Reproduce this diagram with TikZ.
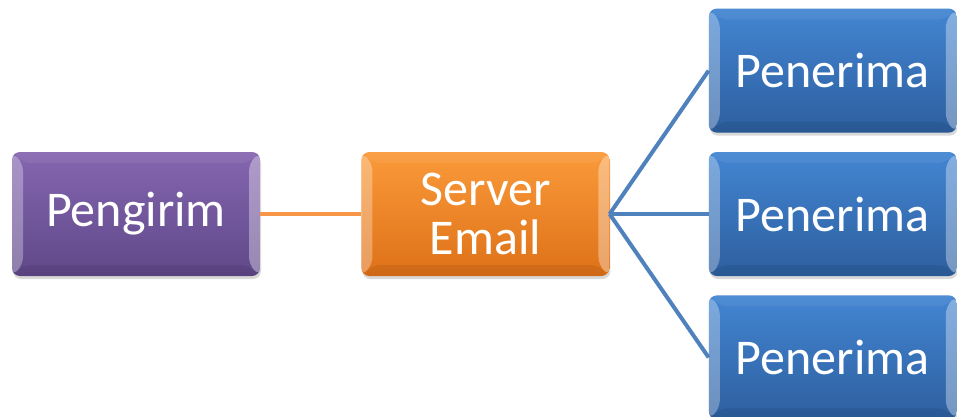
\documentclass[tikz,border=0pt]{standalone}
\usepackage{fontspec}
\setmainfont{Carlito}
\usetikzlibrary{positioning,shadows}

\definecolor{purpletop}{HTML}{8566B0}
\definecolor{purplebot}{HTML}{5F4888}
\definecolor{orangetop}{HTML}{FA9A3A}
\definecolor{orangebot}{HTML}{DE7118}
\definecolor{bluetop}{HTML}{4385D2}
\definecolor{bluebot}{HTML}{2D5F9F}
\definecolor{orangeline}{HTML}{F79646}
\definecolor{blueline}{HTML}{4F81BD}

\tikzset{
    box/.style={rounded corners=8pt, minimum width=248pt, minimum height=124pt,
        inner sep=0pt, text=white, align=center,
        font=\fontsize{50}{49}\selectfont,
        drop shadow={opacity=0.3, shadow xshift=1pt, shadow yshift=-3pt},
        path picture={
            % bevel edges
            \fill[white, opacity=0.3]
                (path picture bounding box.north west) -- ++(11pt,-11pt)
                -- ([shift={(11pt,11pt)}]path picture bounding box.south west)
                -- (path picture bounding box.south west) -- cycle;
            \fill[white, opacity=0.35]
                (path picture bounding box.north east) -- ++(-11pt,-11pt)
                -- ([shift={(-11pt,11pt)}]path picture bounding box.south east)
                -- (path picture bounding box.south east) -- cycle;
            \fill[black, opacity=0.07]
                (path picture bounding box.south west) -- ++(11pt,11pt)
                -- ([shift={(-11pt,11pt)}]path picture bounding box.south east)
                -- (path picture bounding box.south east) -- cycle;
            \fill[white, opacity=0.06]
                (path picture bounding box.north west) -- ++(11pt,-11pt)
                -- ([shift={(-11pt,-11pt)}]path picture bounding box.north east)
                -- (path picture bounding box.north east) -- cycle;
        }},
    sender/.style={box, top color=purpletop, bottom color=purplebot},
    server/.style={box, top color=orangetop, bottom color=orangebot},
    receiver/.style={box, top color=bluetop, bottom color=bluebot},
    link/.style={line width=4pt},
}

\begin{document}
\begin{tikzpicture}[x=1pt, y=1pt]
    \useasboundingbox (0,0) rectangle (957,-417);

    % sender and server
    \node[sender] (pengirim) at (136,-214) {Pengirim};
    \node[server, right=101pt of pengirim] (server) {Server\\Email};

    % receivers
    \node[receiver, right=99pt of server] (penerima2) {Penerima};
    \node[receiver, above=19pt of penerima2] (penerima1) {Penerima};
    \node[receiver, below=19pt of penerima2] (penerima3) {Penerima};

    % links
    \draw[link, orangeline] (pengirim.east) -- (server.west);
    \draw[link, blueline] (server.east) -- (penerima1.west);
    \draw[link, blueline] (server.east) -- (penerima2.west);
    \draw[link, blueline] (server.east) -- (penerima3.west);
\end{tikzpicture}
\end{document}
